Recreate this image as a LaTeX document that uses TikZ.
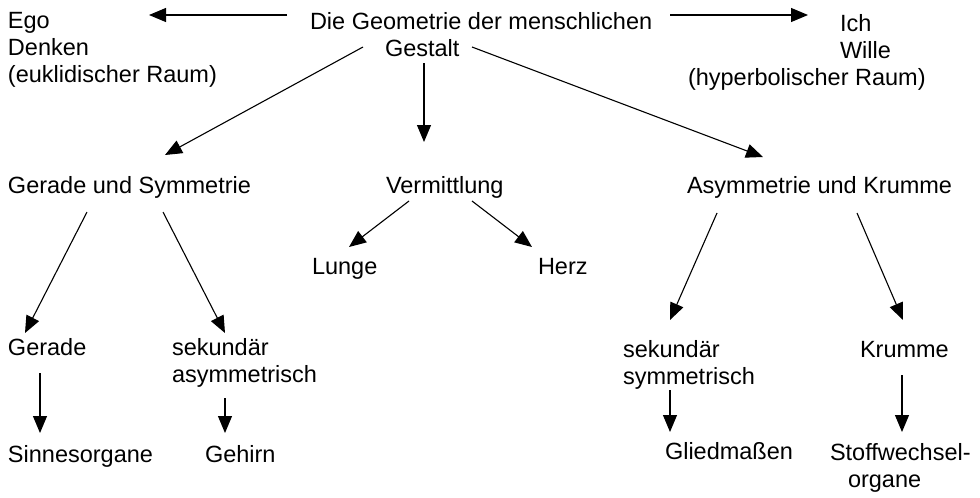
\documentclass[tikz,border=0pt]{standalone}
\usepackage{fontspec}
\setmainfont{Liberation Sans}
\usetikzlibrary{arrows.meta}
\begin{document}
\begin{tikzpicture}[x=1pt,y=-1pt,
  lbl/.style={inner sep=0pt,outer sep=0pt,anchor=base west,font=\fontsize{23.5}{27}\selectfont},
  mlbl/.style={inner sep=0pt,outer sep=0pt,anchor=north west,align=left,font=\fontsize{23.5}{27}\selectfont},
  arr/.style={line width=1.1pt,-{Triangle[length=17pt,width=14pt]}}]
\useasboundingbox[fill=white] (0,0) rectangle (980,498);
% nodes
\node[mlbl] (ego) at (8,12) {Ego\\Denken\\(euklidischer Raum)};
\node[mlbl] (geo) at (310,12) {Die Geometrie der menschlichen\\\hspace*{75pt}Gestalt};
\node[mlbl] (ich) at (688,14) {\hspace*{152pt}Ich\\\hspace*{152pt}Wille\\(hyperbolischer Raum)};
\node[lbl] (gus) at (8,193) {Gerade und Symmetrie};
\node[lbl] (verm) at (386,193) {Vermittlung};
\node[lbl] (auk) at (687,193) {Asymmetrie und Krumme};
\node[lbl] (lunge) at (312,274) {Lunge};
\node[lbl] (herz) at (538,274) {Herz};
\node[lbl] (gerade) at (8,355) {Gerade};
\node[mlbl] (sekasym) at (172,338) {sekundär\\asymmetrisch};
\node[lbl] (sinnes) at (8,462) {Sinnesorgane};
\node[lbl] (gehirn) at (205,462) {Gehirn};
\node[mlbl] (seksym) at (623,340) {sekundär\\symmetrisch};
\node[lbl] (krumme) at (860,357) {Krumme};
\node[lbl] (glied) at (665,459) {Gliedmaßen};
\node[mlbl] (stoff) at (830,443) {Stoffwechsel-\\\hspace*{18pt}organe};
% connectors
\draw[arr] ([shift={(-23,3)}]geo.north west) -- ([shift={(141,3)}]ego.north west);
\draw[arr] ([shift={(360,3)}]geo.north west) -- ([shift={(120,1)}]ich.north west);
\draw[arr] ([shift={(53,35)}]geo.north west) -- ([shift={(157,-38)}]gus.base west);
\draw[arr] ([shift={(114,51)}]geo.north west) -- ([shift={(38,-51)}]verm.base west);
\draw[arr] ([shift={(162,35)}]geo.north west) -- ([shift={(76,-36)}]auk.base west);
\draw[arr] ([shift={(23,8)}]verm.base west) -- ([shift={(37,-27)}]lunge.base west);
\draw[arr] ([shift={(86,8)}]verm.base west) -- ([shift={(-6,-27)}]herz.base west);
\draw[arr] ([shift={(79,19)}]gus.base west) -- ([shift={(17,-22)}]gerade.base west);
\draw[arr] ([shift={(155,19)}]gus.base west) -- ([shift={(53,-5)}]sekasym.north west);
\draw[arr] ([shift={(32,18)}]gerade.base west) -- ([shift={(32,-29)}]sinnes.base west);
\draw[arr] ([shift={(53,60)}]sekasym.north west) -- ([shift={(20,-29)}]gehirn.base west);
\draw[arr] ([shift={(30,20)}]auk.base west) -- ([shift={(47,-20)}]seksym.north west);
\draw[arr] ([shift={(170,20)}]auk.base west) -- ([shift={(43,-37)}]krumme.base west);
\draw[arr] ([shift={(47,50)}]seksym.north west) -- ([shift={(5,-27)}]glied.base west);
\draw[arr] ([shift={(42,18)}]krumme.base west) -- ([shift={(72,-11)}]stoff.north west);
\end{tikzpicture}
\end{document}
